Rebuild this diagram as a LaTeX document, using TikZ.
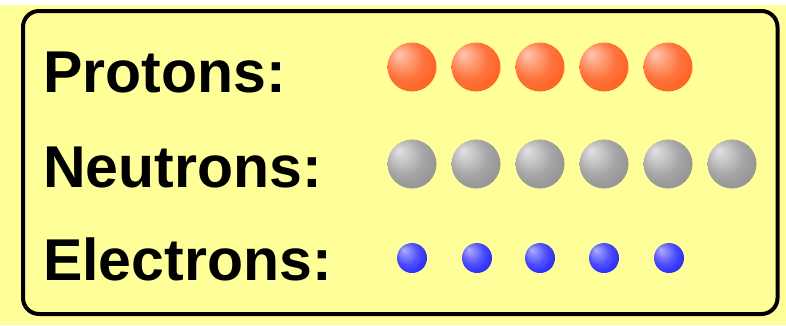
\documentclass[tikz,border=0pt]{standalone}
\usepackage{fontspec}
\setmainfont{Liberation Sans}
\definecolor{panelyellow}{RGB}{255,255,153}
\definecolor{protonhi}{RGB}{255,200,180}
\definecolor{protonmid}{RGB}{255,115,60}
\definecolor{protonlo}{RGB}{255,80,0}
\definecolor{neutronhi}{RGB}{225,225,225}
\definecolor{neutronmid}{RGB}{165,165,165}
\definecolor{neutronlo}{RGB}{125,125,125}
\definecolor{electronhi}{RGB}{175,175,255}
\definecolor{electronmid}{RGB}{80,80,255}
\definecolor{electronlo}{RGB}{0,0,240}
\pgfdeclareradialshading{protonshade}{\pgfpoint{-14bp}{14bp}}{color(0bp)=(protonhi); color(20bp)=(protonmid); color(46bp)=(protonlo)}
\pgfdeclareradialshading{neutronshade}{\pgfpoint{-14bp}{14bp}}{color(0bp)=(neutronhi); color(20bp)=(neutronmid); color(46bp)=(neutronlo)}
\pgfdeclareradialshading{electronshade}{\pgfpoint{-14bp}{14bp}}{color(0bp)=(electronhi); color(18bp)=(electronmid); color(44bp)=(electronlo)}
\tikzset{
  rowlabel/.style={anchor=base west,inner sep=0pt,font=\fontsize{59pt}{60pt}\selectfont\bfseries},
  proton/.style={circle,inner sep=0pt,minimum size=49pt,shade,shading=protonshade},
  neutron/.style={circle,inner sep=0pt,minimum size=49pt,shade,shading=neutronshade},
  electron/.style={circle,inner sep=0pt,minimum size=30pt,shade,shading=electronshade}
}
\begin{document}
\begin{tikzpicture}[x=1pt,y=1pt]
\useasboundingbox (0,0) rectangle (786,325);
\fill[panelyellow] (0,0) rectangle (786,320);
\draw[line width=4pt,rounded corners=16pt] (23,11) rectangle (777.5,314);
% labels
\node[rowlabel] (protons) at (43,233) {Protons:};
\node[rowlabel] (neutrons) at (43,138) {Neutrons:};
\node[rowlabel] (electrons) at (43,45) {Electrons:};
% protons
\node[proton] (p1) at (412,258) {};
\node[proton] (p2) at (476,258) {};
\node[proton] (p3) at (540,258) {};
\node[proton] (p4) at (604,258) {};
\node[proton] (p5) at (668,258) {};
% neutrons
\node[neutron] (n1) at (412,161) {};
\node[neutron] (n2) at (476,161) {};
\node[neutron] (n3) at (540,161) {};
\node[neutron] (n4) at (604,161) {};
\node[neutron] (n5) at (668,161) {};
\node[neutron] (n6) at (732,161) {};
% electrons
\node[electron] (e1) at (412,67) {};
\node[electron] (e2) at (477,67) {};
\node[electron] (e3) at (540,67) {};
\node[electron] (e4) at (604,67) {};
\node[electron] (e5) at (669,67) {};
\end{tikzpicture}
\end{document}
